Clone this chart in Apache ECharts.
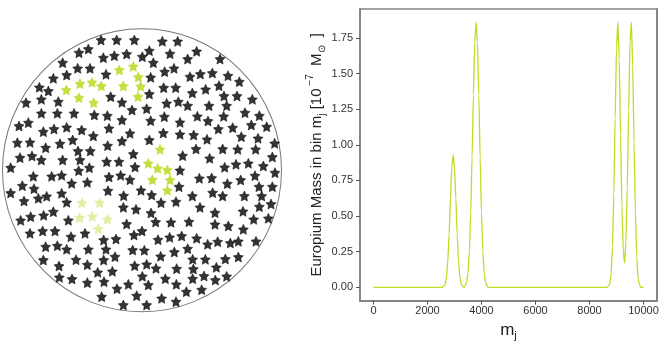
<!DOCTYPE html>
<html>
<head>
<meta charset="utf-8">
<script src="https://cdn.jsdelivr.net/npm/echarts@6/dist/echarts.min.js"></script>
<style>
  html, body { margin: 0; padding: 0; background: #fff; }
  #chart { width: 664px; height: 346px; }
</style>
</head>
<body>
<div id="chart"></div>
<script>
  // disk panel: star positions in disk units (x to the right, y downward)
  let diskCenter = [426, 451];
  let blackStars = [
    [303,60],[350,60],[403,60],[487,64],[533,64],
    [237,98],[265,87],[310,113],[343,107],[380,102],[427,110],[448,92],[510,101],[563,117],[590,94],[660,117],
    [188,128],[233,145],[270,145],[318,163],[460,128],[494,155],[522,145],[570,170],[601,162],[637,159],[684,167],[718,185],
    [160,175],[200,165],[452,172],
    [118,202],[145,213],[448,222],[491,203],[527,203],[577,219],[617,208],[657,197],[711,228],[757,238],
    [332,230],[366,247],[396,270],[500,250],[535,245],[563,257],[627,257],[680,257],[672,228],
    [78,248],[124,238],[175,245],
    [124,280],[172,280],[222,280],[283,285],[322,287],[366,300],[440,266],[452,302],[493,290],[540,307],[592,289],[624,303],[671,289],[735,278],[778,287],[754,315],[800,320],
    [57,318],[85,308],
    [130,335],[162,327],[200,322],[245,330],[280,348],[327,325],[390,340],[448,360],[490,339],[540,343],[581,345],[621,358],[655,327],[698,323],[724,350],[774,355],
    [52,368],[90,367],[137,383],[180,371],[218,360],[323,377],[366,363],
    [60,413],[96,408],[124,420],[188,420],[234,393],[271,393],[400,402],[548,407],[588,387],[629,415],[668,387],[713,388],[767,388],[824,370],[817,411],
    [32,443],[240,420],[320,425],[357,425],[405,441],[540,451],[598,475],[635,474],[674,442],[708,433],[745,430],[790,438],
    [236,452],[268,443],
    [100,469],[155,469],[185,466],[215,490],[262,487],[327,471],[362,466],[390,479],[537,500],
    [682,491],[722,480],[765,467],[825,458],[777,500],[817,500],
    [67,497],[102,506],[32,519],[72,543],[115,535],[140,529],[185,520],[200,547],[324,512],[371,527],[423,511],[455,525],[483,548],[528,545],[577,528],[600,562],[638,518],[668,528],[733,528],[785,528],[813,552],[778,560],
    [370,562],[408,568],[453,579],[467,606],[513,607],[567,605],[645,578],[645,613],[685,618],[729,574],[761,598],[805,595],[730,628],
    [62,601],[92,590],[131,586],[160,575],[205,601],[380,612],
    [90,640],[128,633],[165,633],[213,650],[255,640],[402,645],[426,633],
    [137,680],[172,677],[200,688],[265,688],[311,660],[348,657],[318,688],[398,690],[433,691],[474,659],[509,652],[545,648],[590,655],[623,673],[653,665],[691,669],[715,664],[768,664],
    [130,720],[228,719],[262,734],[311,720],[345,710],[404,737],[440,733],[468,745],[482,709],[523,696],[563,686],[578,718],[616,718],[676,717],[715,711],
    [177,738],[178,772],[216,777],[262,788],[293,757],[337,754],[312,785],[385,793],[427,769],[445,795],[496,776],[530,746],[529,793],[580,747],[578,776],[612,768],[649,742],[646,780],[680,769],[559,815],[605,809],
    [305,830],[351,806],[410,827],[485,835],[528,845],[370,855],[440,855]
  ];
  let brightStars = [
    [358,150],[400,139],[415,171],[199,210],[240,191],[276,187],[304,198],[370,198],[422,199],[237,233],[281,248],[414,230],
    [480,388],[445,430],[473,445],[502,450],[457,479],[510,480],[502,511]
  ];
  let paleStars = [
    [246,548],[299,548],[239,593],[277,589],[322,598],[295,627]
  ];

  // mass profile
  let massX = [
    0, 2550, 2600, 2650, 2700, 2750, 2800, 2850, 2900, 2950, 3000, 3050, 3100, 3150, 3200, 3250, 3300, 3350,
    3400, 3450, 3500, 3550, 3600, 3650, 3700, 3750, 3800, 3850, 3900, 3950, 4000, 4050, 4100, 4150, 4200, 4250,
    8650, 8700, 8750, 8800, 8850, 8900, 8950, 9000, 9050, 9100, 9150, 9200, 9250, 9300, 9350,
    9400, 9450, 9500, 9550, 9600, 9650, 9700, 9750, 9800, 9850, 9900, 9950, 10000
  ];
  let massY = [
    0, 0, 0.01, 0.02, 0.07, 0.18, 0.37, 0.62, 0.84, 0.93, 0.84, 0.62, 0.37, 0.18, 0.07, 0.02, 0.01, 0.00,
    0.01, 0.04, 0.10, 0.25, 0.52, 0.91, 1.35, 1.72, 1.86, 1.72, 1.35, 0.91, 0.52, 0.25, 0.10, 0.04, 0.01, 0,
    0, 0.01, 0.02, 0.09, 0.28, 0.65, 1.19, 1.68, 1.86, 1.60, 1.07, 0.57, 0.26, 0.17, 0.32,
    0.70, 1.24, 1.72, 1.86, 1.55, 1.02, 0.52, 0.21, 0.06, 0.02, 0, 0, 0
  ];
  let xTicks = [0, 2000, 4000, 6000, 8000, 10000];
  let yTicks = [0, 0.25, 0.5, 0.75, 1.0, 1.25, 1.5, 1.75];

  // chunky five-point star
  let starPath = 'path://M50,0 L64.7,29.8 L97.6,34.5 L73.8,57.7 L79.4,90.5 L50,75 L20.6,90.5 L26.2,57.7 L2.4,34.5 L35.3,29.8 Z';
  let font = 'Liberation Sans, Arial, sans-serif';
  let spine = { onZero: false, lineStyle: { color: '#858585', width: 2 } };

  let chart = echarts.init(document.getElementById('chart'));
  chart.setOption({
    animation: false,
    textStyle: { fontFamily: font },
    grid: [
      { left: 0, top: 20, width: 280, height: 310 },
      { left: 360, top: 9, right: 7, bottom: 42, show: true, borderColor: '#444', borderWidth: 1 }
    ],
    xAxis: [
      { gridIndex: 0, type: 'value', min: 0, max: 840, show: false },
      {
        gridIndex: 1, type: 'value', min: -500, max: 10500,
        name: '{n|m}{s|j}', nameLocation: 'middle', nameGap: 18,
        nameTextStyle: {
          rich: {
            n: { fontSize: 17, color: '#222', lineHeight: 22, fontFamily: font },
            s: { fontSize: 11, color: '#222', verticalAlign: 'bottom', lineHeight: 11, fontFamily: font }
          }
        },
        axisLine: spine,
        axisTick: { customValues: xTicks, length: 4, lineStyle: { color: '#555' } },
        axisLabel: {
          customValues: xTicks, color: '#333', fontSize: 11, margin: 5,
          formatter: function (v) { return String(v); }
        },
        splitLine: { show: false }
      }
    ],
    yAxis: [
      { gridIndex: 0, type: 'value', min: 0, max: 930, inverse: true, show: false },
      {
        gridIndex: 1, type: 'value', min: -0.093, max: 1.953,
        name: '{n|Europium Mass in bin m}{s|j}{n| [10}{p| −7}{n|  M}{s|⊙}{n|  ]}',
        nameLocation: 'middle', nameRotate: 90, nameGap: 29,
        nameTextStyle: {
          rich: {
            n: { fontSize: 15, color: '#222', lineHeight: 22, fontFamily: font },
            s: { fontSize: 10, color: '#222', verticalAlign: 'bottom', lineHeight: 10, fontFamily: font },
            p: { fontSize: 10, color: '#222', verticalAlign: 'top', lineHeight: 10, fontFamily: font }
          }
        },
        axisLine: spine,
        axisTick: { customValues: yTicks, length: 4, lineStyle: { color: '#555' } },
        axisLabel: {
          customValues: yTicks, color: '#333', fontSize: 11, margin: 7,
          formatter: function (v) { return v.toFixed(2); }
        },
        splitLine: { show: false }
      },
      {
        gridIndex: 1, type: 'value', min: -0.093, max: 1.953, position: 'right',
        axisLine: spine, axisTick: { show: false }, axisLabel: { show: false }, splitLine: { show: false }
      }
    ],
    series: [
      {
        type: 'scatter', xAxisIndex: 0, yAxisIndex: 0, silent: true, z: 1,
        symbol: 'circle', symbolSize: [279, 283],
        itemStyle: { color: 'rgba(0,0,0,0)', borderColor: '#555', borderWidth: 1 },
        data: [diskCenter]
      },
      {
        type: 'scatter', xAxisIndex: 0, yAxisIndex: 0, z: 2,
        symbol: starPath, symbolSize: 10,
        itemStyle: { color: '#000', borderColor: '#000', borderWidth: 0.6 },
        data: blackStars
      },
      {
        type: 'scatter', xAxisIndex: 0, yAxisIndex: 0, z: 3,
        symbol: starPath, symbolSize: 10,
        itemStyle: { color: '#b6d610', borderColor: '#b6d610', borderWidth: 0.5 },
        data: brightStars
      },
      {
        type: 'scatter', xAxisIndex: 0, yAxisIndex: 0, z: 3,
        symbol: starPath, symbolSize: 10,
        itemStyle: { color: '#dbe88f', borderColor: '#dbe88f', borderWidth: 0.5 },
        data: paleStars
      },
      {
        type: 'line', xAxisIndex: 1, yAxisIndex: 1,
        showSymbol: false, smooth: 0.2, smoothMonotone: 'x',
        lineStyle: { color: '#c2da24', width: 1.3 },
        data: massX.map(function (x, i) { return [x, massY[i]]; })
      }
    ]
  });
</script>
</body>
</html>
